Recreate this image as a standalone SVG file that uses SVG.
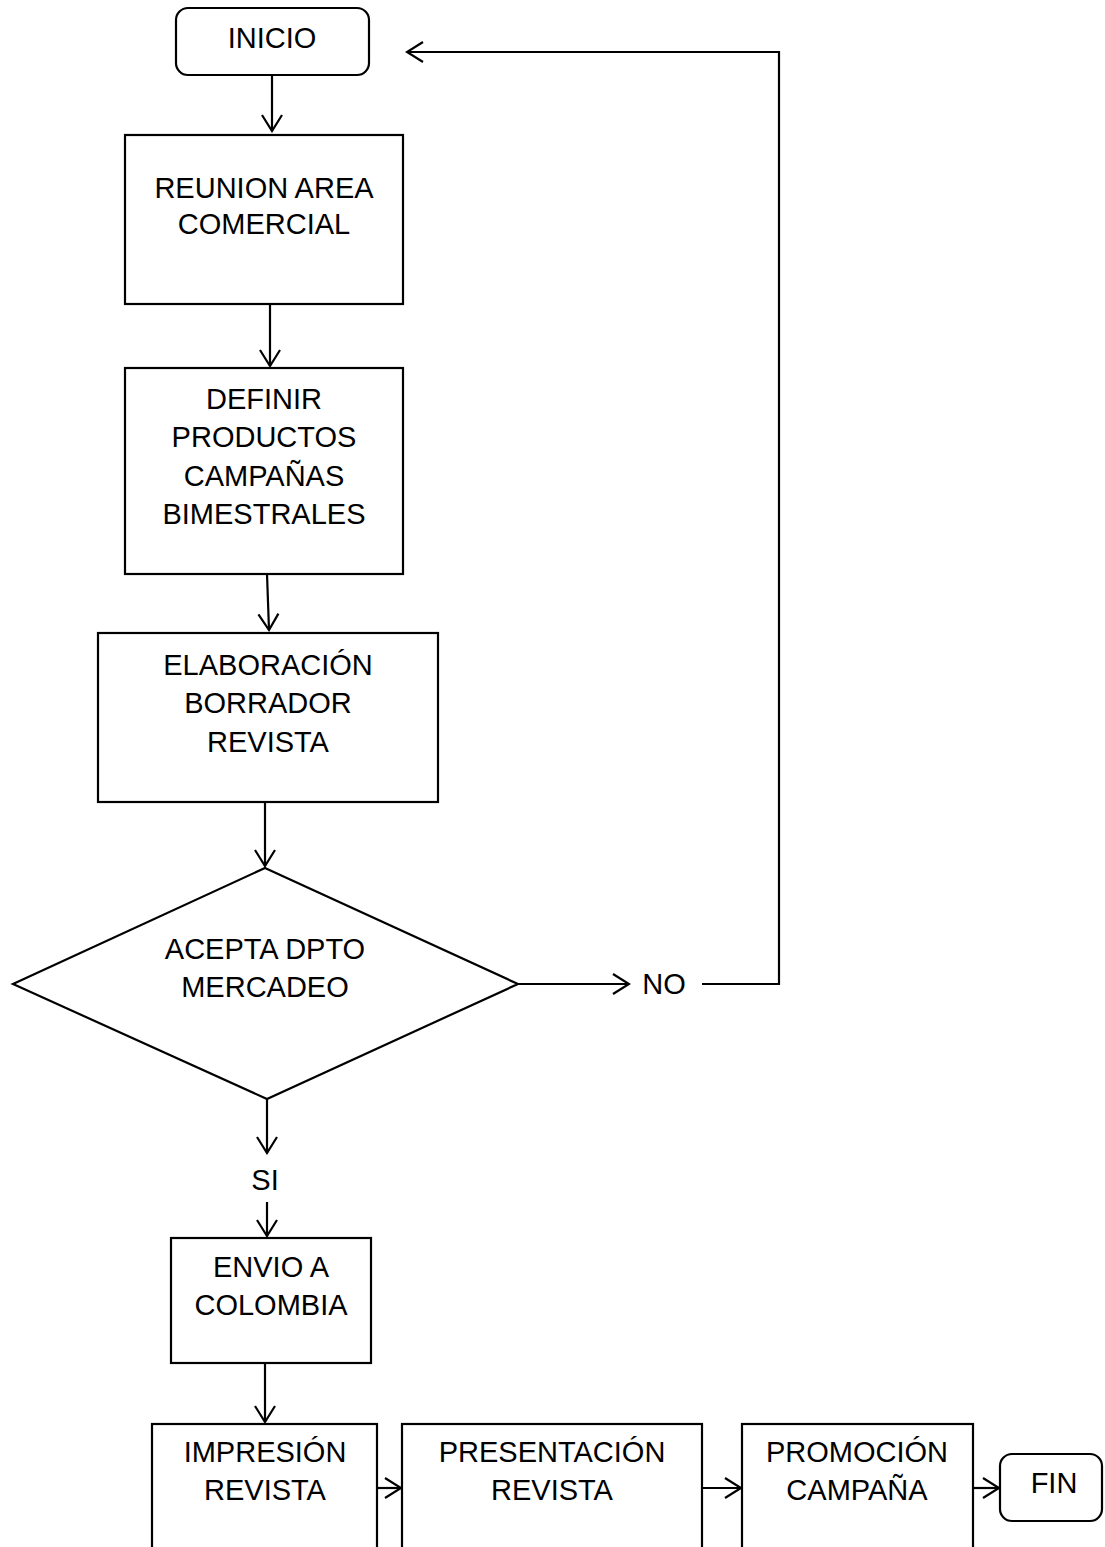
<svg xmlns="http://www.w3.org/2000/svg" width="1105" height="1547" viewBox="0 0 1105 1547">
  <style>
    .box { fill: #ffffff; stroke: #000000; stroke-width: 2.2; }
    .lbl { font-family: "Liberation Sans", Arial, sans-serif; font-size: 29px; fill: #000000; text-anchor: middle; }
    .wire { fill: none; stroke: #000000; stroke-width: 2.2; }
  </style>
  <defs>
    <marker id="head" viewBox="0 0 20 24" refX="18" refY="12" markerWidth="20" markerHeight="24" markerUnits="userSpaceOnUse" orient="auto">
      <path d="M2,2 L18,12 L2,22" fill="none" stroke="#000000" stroke-width="2.2"/>
    </marker>
  </defs>
  <rect width="1105" height="1547" fill="#ffffff"/>

  <!-- connectors -->
  <g id="connectors" class="wire">
    <line x1="272" y1="75" x2="272" y2="131" marker-end="url(#head)"/>
    <line x1="270" y1="304" x2="270" y2="366" marker-end="url(#head)"/>
    <line x1="267" y1="574" x2="269" y2="630" marker-end="url(#head)"/>
    <line x1="265" y1="802" x2="265" y2="866" marker-end="url(#head)"/>
    <line x1="267" y1="1099" x2="267" y2="1153" marker-end="url(#head)"/>
    <line x1="267" y1="1202" x2="267" y2="1236" marker-end="url(#head)"/>
    <line x1="265" y1="1363" x2="265" y2="1422" marker-end="url(#head)"/>
    <line x1="518" y1="984" x2="629" y2="984" marker-end="url(#head)"/>
    <polyline points="702,984 779,984 779,52 407,52" marker-end="url(#head)"/>
    <line x1="377" y1="1488" x2="401" y2="1488" marker-end="url(#head)"/>
    <line x1="702" y1="1488" x2="741" y2="1488" marker-end="url(#head)"/>
    <line x1="973" y1="1488" x2="999" y2="1488" marker-end="url(#head)"/>
  </g>

  <!-- nodes -->
  <g id="inicio">
    <rect class="box" x="176" y="8" width="193" height="67" rx="12"/>
    <text class="lbl" x="272" y="48">INICIO</text>
  </g>
  <g id="reunion">
    <rect class="box" x="125" y="135" width="278" height="169"/>
    <text class="lbl" x="264" y="198">REUNION AREA</text>
    <text class="lbl" x="264" y="234">COMERCIAL</text>
  </g>
  <g id="definir">
    <rect class="box" x="125" y="368" width="278" height="206"/>
    <text class="lbl" x="264" y="409">DEFINIR</text>
    <text class="lbl" x="264" y="447">PRODUCTOS</text>
    <text class="lbl" x="264" y="486">CAMPAÑAS</text>
    <text class="lbl" x="264" y="524">BIMESTRALES</text>
  </g>
  <g id="elaboracion">
    <rect class="box" x="98" y="633" width="340" height="169"/>
    <text class="lbl" x="268" y="675">ELABORACIÓN</text>
    <text class="lbl" x="268" y="713">BORRADOR</text>
    <text class="lbl" x="268" y="752">REVISTA</text>
  </g>
  <g id="decision">
    <polygon class="box" points="265,868 518,984 267,1099 13,984"/>
    <text class="lbl" x="265" y="959">ACEPTA DPTO</text>
    <text class="lbl" x="265" y="997">MERCADEO</text>
  </g>
  <g id="label-no">
    <text class="lbl" x="664" y="994">NO</text>
  </g>
  <g id="label-si">
    <text class="lbl" x="265" y="1190">SI</text>
  </g>
  <g id="envio">
    <rect class="box" x="171" y="1238" width="200" height="125"/>
    <text class="lbl" x="271" y="1277">ENVIO A</text>
    <text class="lbl" x="271" y="1315">COLOMBIA</text>
  </g>
  <g id="impresion">
    <rect class="box" x="152" y="1424" width="225" height="140"/>
    <text class="lbl" x="265" y="1462">IMPRESIÓN</text>
    <text class="lbl" x="265" y="1500">REVISTA</text>
  </g>
  <g id="presentacion">
    <rect class="box" x="402" y="1424" width="300" height="140"/>
    <text class="lbl" x="552" y="1462">PRESENTACIÓN</text>
    <text class="lbl" x="552" y="1500">REVISTA</text>
  </g>
  <g id="promocion">
    <rect class="box" x="742" y="1424" width="231" height="140"/>
    <text class="lbl" x="857" y="1462">PROMOCIÓN</text>
    <text class="lbl" x="857" y="1500">CAMPAÑA</text>
  </g>
  <g id="fin">
    <rect class="box" x="1000" y="1454" width="102" height="67" rx="12"/>
    <text class="lbl" x="1054" y="1493">FIN</text>
  </g>
</svg>
